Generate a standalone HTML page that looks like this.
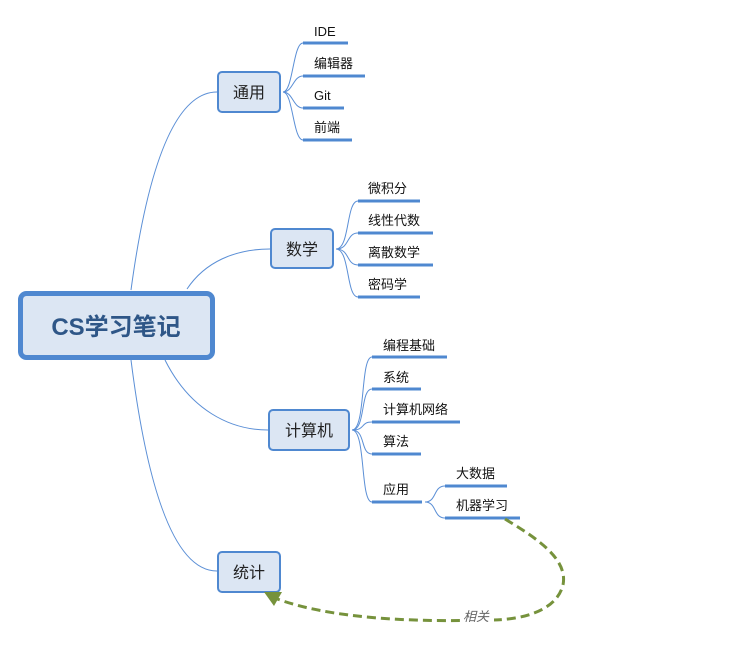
<!DOCTYPE html>
<html><head><meta charset="utf-8"><style>
html,body{margin:0;padding:0;background:#fff;}
svg{display:block;}
text{font-family:"Liberation Sans","Noto Sans CJK SC",sans-serif;}
</style></head><body>
<svg width="729" height="656" viewBox="0 0 729 656" xmlns="http://www.w3.org/2000/svg">
<g fill="none" stroke="#5b8fd6" stroke-width="1">
<path d="M131 290 C150 150 180 92 217 92"/>
<path d="M187 289 C205 262 235 249 270 249"/>
<path d="M165 360 C190 410 230 430 268 430"/>
<path d="M131 360 C150 510 180 571 217 571"/>
<path d="M283 92 C293 92 293 43 303 43"/>
<path d="M283 92 C293 92 293 76 303 76"/>
<path d="M283 92 C293 92 293 108 303 108"/>
<path d="M283 92 C293 92 293 140 303 140"/>
<path d="M336 249 C350 249 346 201 358 201"/>
<path d="M336 249 C350 249 346 233 358 233"/>
<path d="M336 249 C350 249 346 265 358 265"/>
<path d="M336 249 C350 249 346 297 358 297"/>
<path d="M352 430 C366 430 360 357 372 357"/>
<path d="M352 430 C366 430 360 389 372 389"/>
<path d="M352 430 C366 430 360 422 372 422"/>
<path d="M352 430 C366 430 360 454 372 454"/>
<path d="M352 430 C366 430 360 502 372 502"/>
<path d="M425 502 C437 502 433 486 445 486"/>
<path d="M425 502 C437 502 433 518 445 518"/>
</g>
<g stroke="#4f88d0" stroke-width="3">
<line x1="303" y1="43" x2="348" y2="43"/>
<line x1="303" y1="76" x2="365" y2="76"/>
<line x1="303" y1="108" x2="344" y2="108"/>
<line x1="303" y1="140" x2="352" y2="140"/>
<line x1="358" y1="201" x2="420" y2="201"/>
<line x1="358" y1="233" x2="433" y2="233"/>
<line x1="358" y1="265" x2="433" y2="265"/>
<line x1="358" y1="297" x2="420" y2="297"/>
<line x1="372" y1="357" x2="447" y2="357"/>
<line x1="372" y1="389" x2="421" y2="389"/>
<line x1="372" y1="422" x2="460" y2="422"/>
<line x1="372" y1="454" x2="421" y2="454"/>
<line x1="372" y1="502" x2="422" y2="502"/>
<line x1="445" y1="486" x2="507" y2="486"/>
<line x1="445" y1="518" x2="520" y2="518"/>
</g>
<g font-size="13" fill="#111">
<text x="314" y="36">IDE</text>
<text x="314" y="68">编辑器</text>
<text x="314" y="100">Git</text>
<text x="314" y="132">前端</text>
<text x="368" y="193">微积分</text>
<text x="368" y="225">线性代数</text>
<text x="368" y="257">离散数学</text>
<text x="368" y="289">密码学</text>
<text x="383" y="350">编程基础</text>
<text x="383" y="382">系统</text>
<text x="383" y="414">计算机网络</text>
<text x="383" y="446">算法</text>
<text x="383" y="494">应用</text>
<text x="456" y="478">大数据</text>
<text x="456" y="510">机器学习</text>
</g>
<rect x="20.5" y="293.5" width="192" height="64" rx="6" fill="#dce6f3" stroke="#4f88d0" stroke-width="5"/>
<text x="116" y="335" font-size="24" font-weight="bold" fill="#2e5687" text-anchor="middle">CS学习笔记</text>
<g fill="#dce6f3" stroke="#4f88d0" stroke-width="2">
<rect x="218" y="72" width="62" height="40" rx="4"/>
<rect x="271" y="229" width="62" height="39" rx="4"/>
<rect x="269" y="410" width="80" height="40" rx="4"/>
<rect x="218" y="552" width="62" height="40" rx="4"/>
</g>
<g font-size="16" fill="#222" text-anchor="middle">
<text x="249" y="98">通用</text>
<text x="302" y="255">数学</text>
<text x="309" y="436">计算机</text>
<text x="249" y="578">统计</text>
</g>
<path d="M505 519 C540 540 568 560 563 585 C556 612 520 620 490 620 C420 622 330 620 272 597" fill="none" stroke="#76923c" stroke-width="3" stroke-dasharray="9,5"/>
<polygon points="264,592 282,592 274,606" fill="#76923c"/>
<rect x="460" y="608" width="34" height="16" fill="#fff"/>
<text x="463" y="621" font-size="13" font-style="italic" fill="#666">相关</text>
</svg>
</body></html>
